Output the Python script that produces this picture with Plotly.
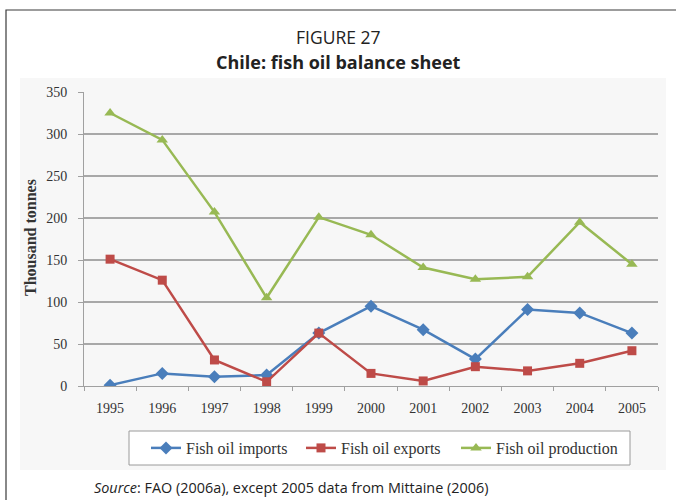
import plotly.graph_objects as go

years = ["1995", "1996", "1997", "1998", "1999", "2000", "2001", "2002", "2003", "2004", "2005"]
imports = [1, 15, 11, 13, 63, 95, 67, 32, 91, 87, 63]
exports = [151, 126, 31, 5, 63, 15, 6, 23, 18, 27, 42]
production = [325, 293, 207, 105, 201, 180, 141, 127, 130, 195, 145]
y_ticks = [0, 50, 100, 150, 200, 250, 300, 350]

W, H = 676, 500
L, R, T, B = 84, 658, 92, 386


def px(x):
    return (x - L) / (R - L)


def py(y):
    return (B - y) / (B - T)


serif = "Liberation Serif, Times New Roman, serif"
sans = "Open Sans, Noto Sans, sans-serif"

fig = go.Figure()
fig.add_trace(go.Scatter(x=years, y=imports, name="Fish oil imports", mode="lines+markers",
                         legend="legend",
                         line=dict(color="#4a7ebb", width=2.5),
                         marker=dict(symbol="diamond", size=10, color="#4a7ebb")))
fig.add_trace(go.Scatter(x=years, y=exports, name="Fish oil exports", mode="lines+markers",
                         legend="legend2",
                         line=dict(color="#be4b48", width=2.5),
                         marker=dict(symbol="square", size=9, color="#be4b48")))
fig.add_trace(go.Scatter(x=years, y=production, name="Fish oil production", mode="lines+markers",
                         legend="legend3",
                         line=dict(color="#98b954", width=2.5),
                         marker=dict(symbol="triangle-up", size=10, color="#98b954")))

shapes = [
    # chart panel
    dict(type="rect", xref="paper", yref="paper", x0=px(20), x1=px(666), y0=py(470), y1=py(78),
         fillcolor="#f7f7f7", line=dict(width=0), layer="below"),
    # legend box
    dict(type="rect", xref="paper", yref="paper", x0=px(129), x1=px(630), y0=py(465), y1=py(431),
         fillcolor="white", line=dict(color="#9a9a9a", width=1), layer="below"),
    # outer frame
    dict(type="rect", xref="paper", yref="paper", x0=px(6), x1=px(690), y0=py(520), y1=py(10),
         fillcolor="rgba(0,0,0,0)", line=dict(color="#3a3a3a", width=1.2), layer="above"),
]

annotations = [
    dict(text="FIGURE 27", x=px(338), y=py(37), xref="paper", yref="paper", showarrow=False,
         xanchor="center", yanchor="middle", font=dict(family=sans, size=17.5, color="#222")),
    dict(text="<b>Chile: fish oil balance sheet</b>", x=px(338), y=py(62), xref="paper", yref="paper",
         showarrow=False, xanchor="center", yanchor="middle",
         font=dict(family=sans, size=18, color="#222")),
    dict(text="<b>Thousand tonnes</b>", x=px(30), y=py(238), xref="paper", yref="paper",
         showarrow=False, textangle=-90, xanchor="center", yanchor="middle",
         font=dict(family=serif, size=16, color="#333")),
    dict(text="<i>Source</i>: FAO (2006a), except 2005 data from Mittaine (2006)", x=px(92), y=py(487),
         xref="paper", yref="paper", xanchor="left", yanchor="middle", showarrow=False,
         font=dict(family=sans, size=14.4, color="#222")),
]


def leg(xpix):
    return dict(orientation="h", x=px(xpix), xanchor="left", y=py(448), yanchor="middle",
                bgcolor="rgba(0,0,0,0)", borderwidth=0,
                font=dict(family=serif, size=16, color="#333"))


fig.update_layout(
    width=W, height=H,
    margin=dict(l=L, r=W - R, t=T, b=H - B, pad=0),
    paper_bgcolor="white",
    plot_bgcolor="rgba(0,0,0,0)",
    shapes=shapes,
    annotations=annotations,
    showlegend=True,
    legend=leg(146),
    legend2=leg(301),
    legend3=leg(456),
    xaxis=dict(type="category", range=[-0.5, 10.5], showgrid=False, showline=True,
               linecolor="#a0a0a0", linewidth=1, ticks="outside", tickson="boundaries",
               ticklen=4, tickcolor="#a0a0a0", ticklabelstandoff=9,
               tickfont=dict(family=serif, size=14, color="#333"), fixedrange=True),
    yaxis=dict(range=[0, 350], tickvals=y_ticks, showgrid=True, gridcolor="#a8a8a8", gridwidth=1.5,
               showline=True, linecolor="#a0a0a0", linewidth=1, ticks="outside", ticklen=5,
               tickcolor="#a0a0a0", zeroline=False, ticklabelstandoff=8,
               tickfont=dict(family=serif, size=14, color="#333"), fixedrange=True),
)

fig.write_html("out.html", config={"displayModeBar": False},
               post_script="document.body.style.margin='0';document.body.style.overflow='hidden';")
